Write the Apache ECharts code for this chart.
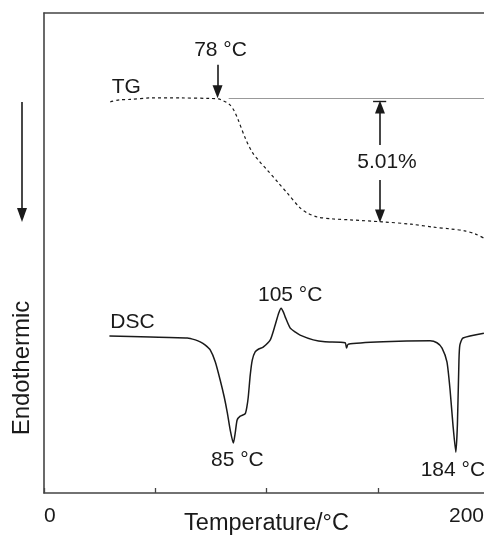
<!DOCTYPE html>
<html>
<head>
<meta charset="utf-8">
<script src="https://cdn.jsdelivr.net/npm/echarts@6/dist/echarts.min.js"></script>
<style>html,body{margin:0;padding:0;background:#fff;}#c{width:484px;height:536px;}</style>
</head>
<body>
<div id="c"></div>
<script>
// Temperature (°C) and signal (arbitrary units, 0-100)
const tgTemp   = [29.8, 34, 38.8, 47.8, 61.3, 74.7, 78.5, 80.1, 82, 83.7, 85.5, 87.3, 90.4, 93.6, 97, 100.3, 105, 109.3, 115.1, 118.5, 122.8, 130, 137.6, 151.9, 165, 174.8, 183, 189.2, 193.7, 197.7];
const tgSignal = [81.5, 81.9, 82.0, 82.3, 82.3, 82.2, 82.1, 81.8, 81.4, 80.8, 79.6, 77.7, 74.0, 71.0, 69.0, 67.3, 64.8, 62.5, 59.4, 58.3, 57.5, 57.1, 56.9, 56.5, 56.0, 55.4, 55.0, 54.6, 54.0, 53.1];

const dscTemp   = [29.4, 47.8, 64.4, 68, 70.2, 72.5, 74.7, 77.0, 79.2, 81, 82.4, 83.7, 85.1, 86.0, 86.8, 88.2, 90.4, 91.2, 91.8, 92.7, 93.6, 94.9, 96.5, 98.5, 101.7, 103.9, 105.5, 106.6, 107.5, 108.4, 110.6, 113, 115.1, 121.0, 126.3, 135.3, 136.0, 136.7, 152.4, 173.5, 176.6, 178.9, 181.1, 182.5, 183.8, 185.1, 185.8, 186.5, 186.9, 188.3, 197.7];
const dscSignal = [32.7, 32.5, 32.3, 31.9, 31.5, 30.8, 29.8, 27.3, 23.5, 20.0, 16.7, 13.1, 10.4, 12.7, 15.2, 16.0, 16.5, 18.0, 20.0, 24.6, 27.7, 29.4, 30.0, 30.4, 31.9, 35.0, 37.5, 38.5, 37.8, 36.7, 34.4, 33.5, 32.9, 31.9, 31.5, 31.3, 30.2, 31.0, 31.5, 31.7, 31.3, 30.2, 27.3, 21.5, 14.2, 8.5, 14.2, 27.7, 30.8, 32.3, 33.3];

const xTicks = [0, 50, 100, 150, 200];
const xShown = [0, 200];

// annotation anchors (data units)
const tgBaseline = 82.2;
const onsetTemp = 78;
const lossTemp = 151;
const lossLabel = '5.01%';

const FONT = '"Liberation Sans", Arial, Helvetica, sans-serif';
const INK = '#1a1a1a';

const chart = echarts.init(document.getElementById('c'), null, {renderer: 'canvas'});

function pts(xs, ys) { return xs.map((x, i) => [x, ys[i]]); }

const arrowLine = {color: INK, width: 1.6, type: 'solid'};

chart.setOption({
  animation: false,
  backgroundColor: '#fff',
  grid: {left: 44, top: 13, width: 445, height: 480, containLabel: false, outerBoundsMode: 'none'},
  xAxis: [{
    type: 'value', min: xTicks[0], max: xTicks[xTicks.length - 1], interval: 50,
    position: 'bottom',
    axisLine: {show: true, lineStyle: {color: '#444', width: 1.6}},
    axisTick: {show: true, inside: true, length: 5, lineStyle: {color: '#444', width: 1.3}},
    splitLine: {show: false},
    axisLabel: {
      show: true, margin: 13, fontSize: 21, fontFamily: FONT, color: INK,
      alignMinLabel: 'left', alignMaxLabel: 'right', padding: [0, 5, 0, 0],
      formatter: v => xShown.includes(v) ? String(v) : ''
    },
    name: 'Temperature/°C', nameLocation: 'middle', nameGap: 19, nameMoveOverlap: false,
    nameTextStyle: {fontSize: 23.5, fontFamily: FONT, color: INK, verticalAlign: 'top'}
  }, {
    type: 'value', min: 0, max: 200, position: 'top',
    axisLine: {show: true, lineStyle: {color: '#444', width: 1.6}},
    axisTick: {show: false}, axisLabel: {show: false}, splitLine: {show: false}
  }],
  yAxis: {
    type: 'value', min: 0, max: 100,
    axisLine: {show: true, lineStyle: {color: '#444', width: 1.6}},
    axisTick: {show: false}, axisLabel: {show: false}, splitLine: {show: false}
  },
  series: [{
    name: 'TG', type: 'line', data: pts(tgTemp, tgSignal), showSymbol: false, symbol: 'none',
    smooth: 0.3,
    lineStyle: {color: INK, width: 1.2, type: [3, 3]},
    markLine: {
      silent: true, animation: false,
      label: {show: false},
      data: [
        [{coord: [83, tgBaseline], symbol: 'none', lineStyle: {color: '#999', width: 1.2, type: 'solid'}},
         {coord: [200, tgBaseline], symbol: 'none'}],
        [{coord: [onsetTemp, 89.2], symbol: 'none', lineStyle: arrowLine},
         {coord: [onsetTemp, 83.6], symbol: 'triangle', symbolSize: [10, 13], symbolRotate: 180}],
        [{coord: [lossTemp, 72.5], symbol: 'none', lineStyle: arrowLine},
         {coord: [lossTemp, 80.4], symbol: 'triangle', symbolSize: [10, 13], symbolRotate: 0}],
        [{coord: [lossTemp, 65.2], symbol: 'none', lineStyle: arrowLine},
         {coord: [lossTemp, 57.7], symbol: 'triangle', symbolSize: [10, 13], symbolRotate: 180}],
        [{coord: [lossTemp - 3.1, 81.6], symbol: 'none', lineStyle: {color: INK, width: 1.4, type: 'solid'}},
         {coord: [lossTemp + 2.8, 81.6], symbol: 'none'}]
      ]
    }
  }, {
    name: 'DSC', type: 'line', data: pts(dscTemp, dscSignal), showSymbol: false, symbol: 'none',
    smooth: 0.2,
    lineStyle: {color: INK, width: 1.5}
  }]
});

// text annotations placed at data anchors
function P(x, y) { return chart.convertToPixel({xAxisIndex: 0, yAxisIndex: 0}, [x, y]); }
function txt(pos, text, dx, dy, size) {
  return {type: 'text', x: pos[0] + dx, y: pos[1] + dy,
    style: {text: text, fontSize: size || 21, fontFamily: FONT, fill: INK, align: 'center', verticalAlign: 'middle'}};
}
const g = [
  txt(P(onsetTemp, 89.2), '78 °C', 3, -15),
  txt(P(tgTemp[0], tgSignal[0]), 'TG', 16, -15),
  txt(P(lossTemp, 69), lossLabel, 7, 0),
  txt(P(dscTemp[0], dscSignal[0]), 'DSC', 23, -14),
  txt(P(106.6, 38.5), '105 °C', 9, -13),
  txt(P(85.1, 10.4), '85 °C', 4, 17),
  txt(P(185.1, 8.5), '184 °C', -3, 18),
  {type: 'text', x: 22, y: 368, rotation: Math.PI / 2,
   style: {text: 'Endothermic', fontSize: 24, fontFamily: FONT, fill: INK, align: 'center', verticalAlign: 'middle'}},
  {type: 'line', shape: {x1: 22, y1: 102, x2: 22, y2: 210}, style: {stroke: INK, lineWidth: 1.6}},
  {type: 'polygon', shape: {points: [[17, 208], [27, 208], [22, 222]]}, style: {fill: INK}}
];
chart.setOption({graphic: g});
</script>
</body>
</html>
